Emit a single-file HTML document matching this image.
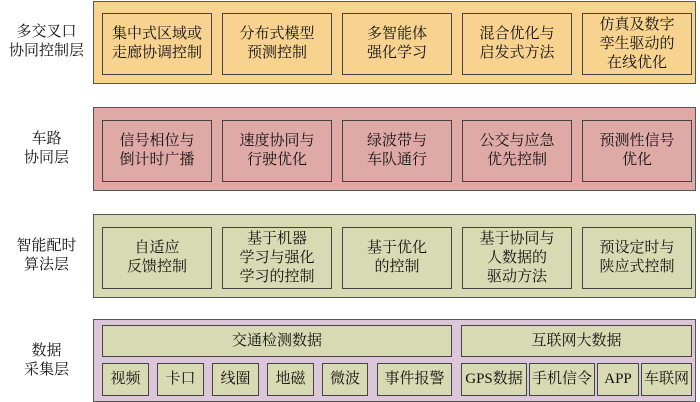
<!DOCTYPE html>
<html><head><meta charset="utf-8"><style>
body{margin:0;width:700px;height:402px;background:#fff;position:relative;overflow:hidden;font-family:"Liberation Serif","Noto Serif CJK SC",serif;color:#111}
.o{position:absolute;left:93px;width:603px;border:1.5px solid #555;box-sizing:border-box}
.b{position:absolute;border:1.5px solid #444;box-sizing:border-box;display:flex;align-items:center;justify-content:center;text-align:center;font-size:15px;line-height:19px}
.l{position:absolute;left:0;width:93px;text-align:center;font-size:15px;line-height:19px;display:flex;align-items:center;justify-content:center}
.y{background:#f8d38f}.r{background:#dfa9a6}.g{background:#d7dab3}.p{background:#dcc6da}
</style></head><body>
<div class="l" style="top:0;height:84px">多交叉口<br>协同控制层</div>
<div class="o y" style="top:1px;height:83px"></div>
<div class="b y" style="left:102px;top:13px;width:110px;height:62px">集中式区域或<br>走廊协调控制</div>
<div class="b y" style="left:222px;top:13px;width:110px;height:62px">分布式模型<br>预测控制</div>
<div class="b y" style="left:342px;top:13px;width:110px;height:62px">多智能体<br>强化学习</div>
<div class="b y" style="left:462px;top:13px;width:110px;height:62px">混合优化与<br>启发式方法</div>
<div class="b y" style="left:582px;top:13px;width:110px;height:62px">仿真及数字<br>孪生驱动的<br>在线优化</div>

<div class="l" style="top:107px;height:84px">车路<br>协同层</div>
<div class="o r" style="top:107px;height:84px"></div>
<div class="b r" style="left:102px;top:120px;width:110px;height:62px">信号相位与<br>倒计时广播</div>
<div class="b r" style="left:222px;top:120px;width:110px;height:62px">速度协同与<br>行驶优化</div>
<div class="b r" style="left:342px;top:120px;width:110px;height:62px">绿波带与<br>车队通行</div>
<div class="b r" style="left:462px;top:120px;width:110px;height:62px">公交与应急<br>优先控制</div>
<div class="b r" style="left:582px;top:120px;width:110px;height:62px">预测性信号<br>优化</div>

<div class="l" style="top:214px;height:84px">智能配时<br>算法层</div>
<div class="o g" style="top:214px;height:84px"></div>
<div class="b g" style="left:102px;top:227px;width:110px;height:62px">自适应<br>反馈控制</div>
<div class="b g" style="left:222px;top:227px;width:110px;height:62px">基于机器<br>学习与强化<br>学习的控制</div>
<div class="b g" style="left:342px;top:227px;width:110px;height:62px">基于优化<br>的控制</div>
<div class="b g" style="left:462px;top:227px;width:110px;height:62px">基于协同与<br>人数据的<br>驱动方法</div>
<div class="b g" style="left:582px;top:227px;width:110px;height:62px">预设定时与<br>陕应式控制</div>

<div class="l" style="top:319px;height:83px">数据<br>采集层</div>
<div class="o p" style="top:319px;height:83px"></div>
<div class="b g" style="left:102px;top:325px;width:350px;height:32px">交通检测数据</div>
<div class="b g" style="left:461px;top:325px;width:231px;height:32px">互联网大数据</div>
<div class="b g" style="left:102px;top:363px;width:47px;height:33px">视频</div>
<div class="b g" style="left:157px;top:363px;width:47px;height:33px">卡口</div>
<div class="b g" style="left:212px;top:363px;width:47px;height:33px">线圈</div>
<div class="b g" style="left:267px;top:363px;width:47px;height:33px">地磁</div>
<div class="b g" style="left:322px;top:363px;width:46px;height:33px">微波</div>
<div class="b g" style="left:377px;top:363px;width:75px;height:33px">事件报警</div>
<div class="b g" style="left:461px;top:363px;width:66px;height:33px">GPS数据</div>
<div class="b g" style="left:529px;top:363px;width:66px;height:33px">手机信令</div>
<div class="b g" style="left:597px;top:363px;width:42px;height:33px">APP</div>
<div class="b g" style="left:641px;top:363px;width:51px;height:33px">车联网</div>
</body></html>
